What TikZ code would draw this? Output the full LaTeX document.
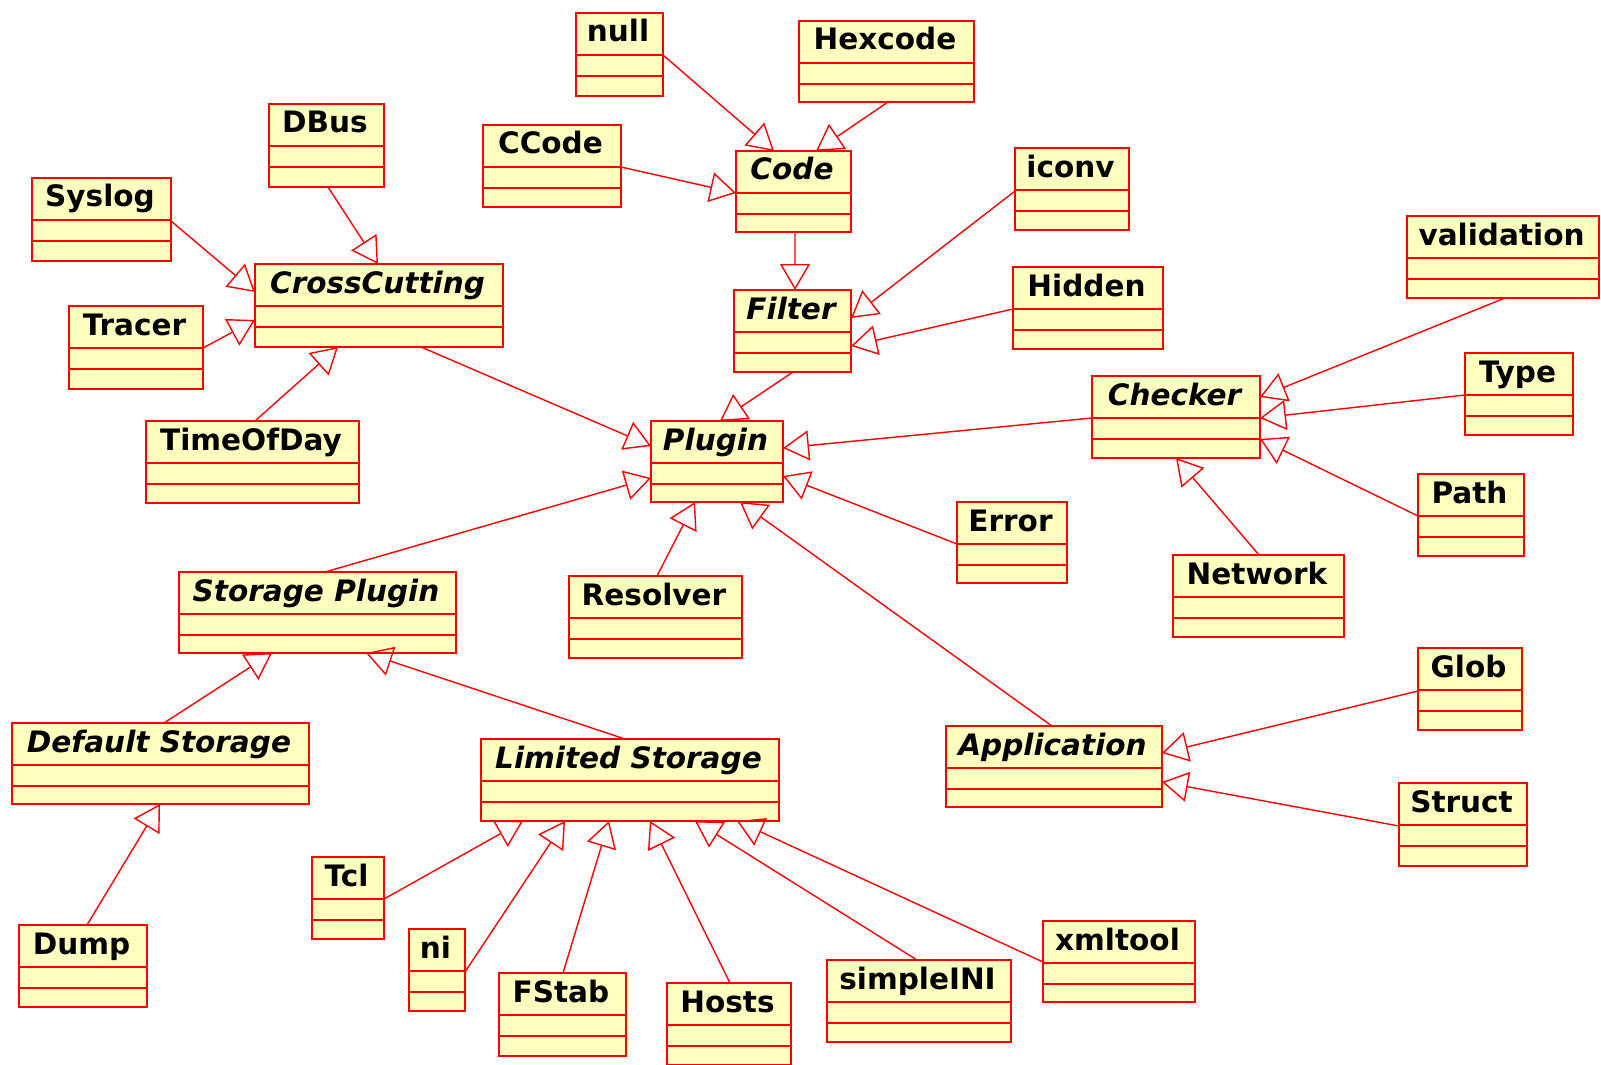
\documentclass[tikz,border=0pt]{standalone}
\usepackage{fontspec}
\setmainfont{DejaVu Sans}
\usetikzlibrary{arrows.meta,calc}
\definecolor{umlfill}{HTML}{FFFFC0}
\definecolor{umlred}{HTML}{FF0000}
\tikzset{
  umlcls/.style={draw=umlred, fill=umlfill, line width=1.1pt, rectangle, inner sep=0pt, outer sep=0pt},
  umlborder/.style={draw=umlred, line width=1.1pt},
  umltext/.style={anchor=base, inner sep=0pt, text=black},
  gen/.style={draw=umlred, line width=0.8pt, -{Triangle[open, length=0.52cm, width=0.6cm]}},
}
\newcommand{\umlclass}[7]{%
  \node[umlcls, anchor=north west, minimum width={(#4-#2)*0.02cm}, minimum height={(#5-#3)*0.02cm}] (#1) at (#2,#3) {};
  \draw[umlborder] ($(#1.north west)+(0,42)$) -- ($(#1.north east)+(0,42)$);
  \draw[umlborder] ($(#1.north west)+(0,63)$) -- ($(#1.north east)+(0,63)$);
  \node[umltext, font=\fontsize{16.8}{20}\selectfont#7] (#1-label) at ($(#1.north)+(-1.5,29)$) {#6};
}
\begin{document}
\begin{tikzpicture}[x=0.02cm, y=-0.02cm]
\useasboundingbox (0,0) rectangle (1601,1064);
\fill[white] (0,0) rectangle (1601,1064);
\begin{scope}
\clip (0,0) rectangle (1601,1064);
% boxes
\umlclass{null}{576}{13}{663}{96}{null}{\bfseries}
\umlclass{Hexcode}{799}{21}{974}{102}{Hexcode}{\bfseries}
\umlclass{CCode}{483}{125}{621}{207}{CCode}{\bfseries}
\umlclass{Code}{736}{151}{851}{232}{Code}{\bfseries\itshape}
\umlclass{iconv}{1015}{148}{1129}{230}{iconv}{\bfseries}
\umlclass{Filter}{734}{290}{851}{372}{Filter}{\bfseries\itshape}
\umlclass{Hidden}{1013}{267}{1163}{349}{Hidden}{\bfseries}
\umlclass{DBus}{269}{104}{384}{187}{DBus}{\bfseries}
\umlclass{Syslog}{32}{178}{171}{261}{Syslog}{\bfseries}
\umlclass{CrossCutting}{255}{264}{503}{347}{CrossCutting}{\bfseries\itshape}
\umlclass{Tracer}{69}{306}{203}{389}{Tracer}{\bfseries}
\umlclass{TimeOfDay}{146}{421}{359}{503}{TimeOfDay}{\bfseries}
\umlclass{Plugin}{651}{421}{783}{502}{Plugin}{\bfseries\itshape}
\umlclass{validation}{1407}{216}{1599}{298}{validation}{\bfseries}
\umlclass{Checker}{1092}{376}{1260}{458}{Checker}{\bfseries\itshape}
\umlclass{Type}{1465}{353}{1573}{435}{Type}{\bfseries}
\umlclass{Path}{1418}{474}{1524}{556}{Path}{\bfseries}
\umlclass{Network}{1173}{555}{1344}{637}{Network}{\bfseries}
\umlclass{Error}{957}{502}{1067}{583}{Error}{\bfseries}
\umlclass{Resolver}{569}{576}{742}{658}{Resolver}{\bfseries}
\umlclass{StoragePlugin}{179}{572}{456}{653}{Storage Plugin}{\bfseries\itshape}
\umlclass{DefaultStorage}{12}{723}{309}{804}{Default Storage}{\bfseries\itshape}
\umlclass{LimitedStorage}{481}{739}{779}{821}{Limited Storage}{\bfseries\itshape}
\umlclass{Application}{946}{726}{1162}{807}{Application}{\bfseries\itshape}
\umlclass{Glob}{1418}{648}{1522}{730}{Glob}{\bfseries}
\umlclass{Struct}{1399}{783}{1527}{866}{Struct}{\bfseries}
\umlclass{Dump}{19}{925}{147}{1007}{Dump}{\bfseries}
\umlclass{Tcl}{312}{857}{384}{939}{Tcl}{\bfseries}
\umlclass{ni}{409}{929}{465}{1011}{ni}{\bfseries}
\umlclass{FStab}{499}{973}{626}{1056}{FStab}{\bfseries}
\umlclass{Hosts}{667}{983}{791}{1065}{Hosts}{\bfseries}
\umlclass{simpleINI}{827}{960}{1011}{1042}{simpleINI}{\bfseries}
\umlclass{xmltool}{1043}{921}{1195}{1002}{xmltool}{\bfseries}
% generalizations
\draw[gen] ($(null.north east)+(0,42)$) -- ($(Code.north west)+(38,0)$);
\draw[gen] ($(Hexcode.south)+(1.5,0)$) -- ($(Code.north west)+(80,0)$);
\draw[gen] ($(CCode.north east)+(0,42)$) -- ($(Code.north west)+(0,42)$);
\draw[gen] ($(Code.south)+(1.5,0)$) -- ($(Filter.north west)+(61,0)$);
\draw[gen] ($(iconv.north west)+(0,43)$) -- ($(Filter.north east)+(0,28)$);
\draw[gen] ($(Hidden.north west)+(0,42)$) -- ($(Filter.north east)+(0,56)$);
\draw[gen] ($(Filter.south)+(0.5,0)$) -- ($(Plugin.north west)+(69,0)$);
\draw[gen] ($(Syslog.north east)+(0,43)$) -- ($(CrossCutting.north west)+(0,28)$);
\draw[gen] ($(DBus.south)+(1.5,0)$) -- ($(CrossCutting.north west)+(123,0)$);
\draw[gen] ($(Tracer.north east)+(0,42)$) -- ($(CrossCutting.north west)+(0,56)$);
\draw[gen] ($(TimeOfDay.north west)+(109,0)$) -- ($(CrossCutting.south west)+(83,0)$);
\draw[gen] ($(CrossCutting.south west)+(166,0)$) -- ($(Plugin.north west)+(0,25)$);
\draw[gen] ($(StoragePlugin.north west)+(146,0)$) -- ($(Plugin.north west)+(0,57)$);
\draw[gen] ($(Resolver.north west)+(88,0)$) -- ($(Plugin.south west)+(44,0)$);
\draw[gen] ($(Application.north west)+(106,0)$) -- ($(Plugin.south west)+(89,0)$);
\draw[gen] ($(Checker.north west)+(0,42)$) -- ($(Plugin.north east)+(0,27)$);
\draw[gen] ($(Error.north west)+(0,42)$) -- ($(Plugin.north east)+(0,55)$);
\draw[gen] ($(validation.south west)+(98,0)$) -- ($(Checker.north east)+(0,21)$);
\draw[gen] ($(Type.north west)+(0,42)$) -- ($(Checker.north east)+(0,42)$);
\draw[gen] ($(Path.north west)+(0,42)$) -- ($(Checker.north east)+(0,63)$);
\draw[gen] ($(Network.north west)+(86,0)$) -- ($(Checker.south west)+(84,0)$);
\draw[gen] ($(DefaultStorage.north west)+(152,0)$) -- ($(StoragePlugin.south west)+(93,0)$);
\draw[gen] ($(LimitedStorage.north west)+(144,0)$) -- ($(StoragePlugin.south west)+(187,0)$);
\draw[gen] ($(Dump.north west)+(68,0)$) -- ($(DefaultStorage.south west)+(148,0)$);
\draw[gen] ($(Tcl.north east)+(0,42)$) -- ($(LimitedStorage.south west)+(42,0)$);
\draw[gen] ($(ni.north east)+(0,43)$) -- ($(LimitedStorage.south west)+(84,0)$);
\draw[gen] ($(FStab.north west)+(64,0)$) -- ($(LimitedStorage.south west)+(128,0)$);
\draw[gen] ($(Hosts.north west)+(63,0)$) -- ($(LimitedStorage.south west)+(169,0)$);
\draw[gen] ($(simpleINI.north west)+(90,0)$) -- ($(LimitedStorage.south west)+(214,0)$);
\draw[gen] ($(xmltool.north west)+(0,41)$) -- ($(LimitedStorage.south west)+(256,0)$);
\draw[gen] ($(Glob.north west)+(0,43)$) -- ($(Application.north east)+(0,27)$);
\draw[gen] ($(Struct.north west)+(0,43)$) -- ($(Application.north east)+(0,56)$);
\end{scope}
\end{tikzpicture}
\end{document}
